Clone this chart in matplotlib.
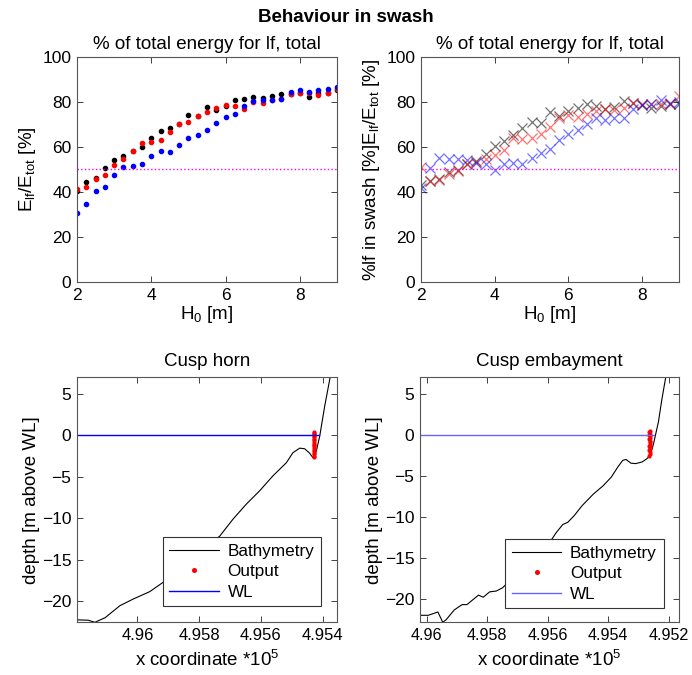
import numpy as np
import matplotlib
matplotlib.use('Agg')
import matplotlib.pyplot as plt

plt.rcParams['font.family'] = ['Liberation Sans', 'DejaVu Sans']
plt.rcParams['mathtext.default'] = 'regular'

#------------------------------------------------------------------------------
# data
H0 = [2.0, 2.25, 2.5, 2.75, 3.0, 3.25, 3.5, 3.75, 4.0, 4.25, 4.5, 4.75, 5.0, 5.25,
      5.5, 5.75, 6.0, 6.25, 6.5, 6.75, 7.0, 7.25, 7.5, 7.75, 8.0, 8.25, 8.5, 8.75, 9.0]

# top left: % of total energy for lf (dots)
e_black = [40.6, 44.6, 46.4, 50.7, 54.1, 55.9, 58.4, 60.2, 64.2, 67.0, 68.5, 70.4, 74.1, 73.8,
           77.6, 76.5, 78.3, 81.1, 81.4, 82.2, 81.7, 82.8, 83.5, 83.5, 84.1, 82.2, 84.2, 84.2, 85.4]
e_red = [41.2, 42.2, 45.6, 47.4, 52.0, 54.5, 58.4, 61.8, 62.3, 63.2, 66.7, 70.0, 70.9, 73.6,
         75.6, 77.3, 78.5, 78.0, 77.0, 80.1, 79.5, 81.0, 81.3, 83.5, 84.1, 84.0, 83.2, 84.1, 85.6]
e_blue = [30.6, 34.5, 40.3, 42.2, 47.4, 51.3, 51.6, 52.6, 55.9, 58.2, 57.7, 60.9, 64.0, 65.2,
          67.6, 70.7, 73.4, 74.6, 78.0, 80.4, 80.7, 81.1, 81.4, 84.5, 85.4, 84.4, 85.4, 85.7, 86.6]

# top right: % lf in swash (crosses)
s_black = [43.3, 44.7, 45.8, 48.7, 49.6, 52.6, 53.6, 57.0, 60.4, 62.7, 65.2, 68.6, 71.3, 70.7,
           75.4, 73.6, 75.9, 77.2, 79.0, 78.4, 77.0, 77.8, 80.3, 79.6, 78.8, 77.3, 78.1, 79.1, 79.0]
s_red = [51.0, 44.7, 45.5, 48.0, 49.3, 52.3, 53.3, 54.8, 56.4, 58.8, 63.9, 63.6, 64.1, 65.9,
         68.9, 72.7, 74.1, 73.3, 74.7, 76.1, 76.7, 76.3, 77.3, 79.6, 79.0, 79.0, 79.3, 79.3, 82.8]
s_blue = [41.9, 50.8, 55.1, 54.8, 54.8, 54.4, 53.0, 52.3, 49.6, 52.3, 53.0, 52.4, 55.1, 57.3,
          59.3, 63.3, 65.6, 67.7, 70.4, 73.0, 72.1, 73.0, 73.0, 77.0, 78.8, 79.3, 80.7, 79.6, 79.9]

# bottom left: cusp horn profile (x in 10^5 m)
horn_x = [4.96200, 4.96160, 4.96138, 4.96105, 4.96057, 4.96014, 4.95960, 4.95906, 4.95879,
          4.95830, 4.95787, 4.95733, 4.95690, 4.95647, 4.95604, 4.95561, 4.95517, 4.95496,
          4.95474, 4.95458, 4.95442, 4.95429, 4.95420, 4.95409, 4.95393, 4.95375, 4.95340]
horn_z = [-22.25, -22.30, -22.55, -22.00, -20.55, -19.75, -18.85, -17.45, -16.75,
          -14.95, -13.75, -12.15, -10.10, -8.30, -6.70, -4.90, -3.30, -2.10,
          -1.55, -1.62, -2.15, -2.80, -1.90, -0.10, 3.50, 7.05, 13.50]
horn_out_x = [4.95427, 4.95428, 4.95426, 4.95428, 4.95427, 4.95426, 4.95428, 4.95427, 4.95426,
              4.95427, 4.95428, 4.95426, 4.95427, 4.95428, 4.95426, 4.95427, 4.95428, 4.95427]
horn_out_z = [0.45, 0.28, 0.12, -0.05, -0.25, -0.42, -0.60, -0.82, -1.00,
              -1.18, -1.35, -1.58, -1.75, -1.92, -2.10, -2.28, -2.45, -2.62]
horn_wl_x = [4.96200, 4.95412]

# bottom right: cusp embayment profile
emb_x = [4.96030, 4.95995, 4.95963, 4.95947, 4.95936, 4.95909, 4.95883, 4.95867, 4.95829,
         4.95813, 4.95792, 4.95770, 4.95749, 4.95733, 4.95719, 4.95708, 4.95697, 4.95660,
         4.95625, 4.95590, 4.95572, 4.95550, 4.95534, 4.95513, 4.95486, 4.95449, 4.95417,
         4.95390, 4.95368, 4.95352, 4.95341, 4.95325, 4.95309, 4.95288, 4.95272, 4.95261,
         4.95250, 4.95234, 4.95223, 4.95210, 4.95190]
emb_z = [-21.95, -21.95, -21.55, -22.80, -22.50, -21.30, -20.65, -20.65, -19.50,
         -19.75, -19.10, -19.00, -18.60, -18.00, -17.80, -16.60, -15.30, -14.60,
         -13.80, -12.90, -11.90, -10.90, -10.65, -9.85, -8.60, -7.20, -6.20,
         -5.15, -3.90, -3.10, -3.00, -3.45, -3.50, -3.30, -2.90, -2.50,
         -1.05, 1.60, 4.25, 7.00, 12.00]
emb_out_x = [4.95263, 4.95264, 4.95262, 4.95264, 4.95263, 4.95262, 4.95264, 4.95263, 4.95262,
             4.95263, 4.95264, 4.95262, 4.95263, 4.95264, 4.95262, 4.95263, 4.95264]
emb_out_z = [0.50, 0.33, 0.15, -0.02, -0.20, -0.38, -0.55, -0.75, -0.92,
             -1.10, -1.30, -1.48, -1.65, -1.85, -2.05, -2.28, -2.52]
emb_wl_x = [4.96030, 4.95248]

#------------------------------------------------------------------------------
def matlab_axes(ax):
    ax.tick_params(direction='in', top=True, right=True, length=4, width=0.6,
                   labelsize=12.5, colors='#222222', labelcolor='black', pad=4)
    for s in ax.spines.values():
        s.set_color('#555555')
        s.set_linewidth(0.8)

def add_legend(ax, y0):
    leg = ax.legend(loc='lower right', bbox_to_anchor=(0.972, y0), fontsize=12.3,
                    handlelength=2.9, handletextpad=0.5, fancybox=False, framealpha=1,
                    edgecolor='#333333', borderpad=0.4, labelspacing=0.3, markerscale=1.3)
    leg.get_frame().set_linewidth(0.8)

fig = plt.figure(figsize=(6.92, 6.75), dpi=100)
fig.suptitle('Behaviour in swash', fontsize=13.5, fontweight='bold', y=0.987)

ax1 = fig.add_axes([0.1113, 0.5822, 0.3757, 0.3334])
ax2 = fig.add_axes([0.6084, 0.5822, 0.3728, 0.3334])
ax3 = fig.add_axes([0.1113, 0.0781, 0.3757, 0.3630])
ax4 = fig.add_axes([0.6070, 0.0781, 0.3747, 0.3630])

# top left
ax1.plot(H0, e_black, '.', color='black', ms=6)
ax1.plot(H0, e_red, '.', color='red', ms=6)
ax1.plot(H0, e_blue, '.', color='blue', ms=6)
ax1.axhline(50, color='magenta', ls=':', lw=1)
ax1.set_xlim(2, 9)
ax1.set_ylim(0, 100)
ax1.set_xticks([2, 4, 6, 8])
ax1.set_title('% of total energy for lf, total', fontsize=13.5, pad=6)
ax1.set_xlabel('H$_0$ [m]', fontsize=13.5, labelpad=1)
ax1.set_ylabel('E$_{lf}$/E$_{tot}$ [%]', fontsize=13.5, labelpad=3)
matlab_axes(ax1)

# top right
ax2.plot(H0, s_black, 'x', color='black', ms=7, mew=0.9, alpha=0.55)
ax2.plot(H0, s_red, 'x', color='red', ms=7, mew=0.9, alpha=0.55)
ax2.plot(H0, s_blue, 'x', color='blue', ms=7, mew=0.9, alpha=0.55)
ax2.axhline(50, color='magenta', ls=':', lw=1)
ax2.set_xlim(2, 9)
ax2.set_ylim(0, 100)
ax2.set_xticks([2, 4, 6, 8])
ax2.set_title('% of total energy for lf, total', fontsize=13.5, pad=6)
ax2.set_xlabel('H$_0$ [m]', fontsize=13.5, labelpad=1)
ax2.set_ylabel('%lf in swash [%]E$_{lf}$/E$_{tot}$ [%]', fontsize=13.5, labelpad=3)
matlab_axes(ax2)

# bottom left
ax3.plot(horn_x, horn_z, color='black', lw=0.8, label='Bathymetry')
ax3.plot(horn_out_x, horn_out_z, '.', color='red', ms=4, label='Output')
ax3.plot(horn_wl_x, [0, 0], color='blue', lw=1.0, label='WL')
ax3.set_xlim(4.96196, 4.95353)
ax3.set_ylim(-22.55, 7)
ax3.set_xticks([4.96, 4.958, 4.956, 4.954])
ax3.set_xticklabels(['4.96', '4.958', '4.956', '4.954'])
ax3.set_yticks([5, 0, -5, -10, -15, -20])
ax3.set_title('Cusp horn', fontsize=13.5, pad=8)
ax3.set_xlabel('x coordinate *10$^5$', fontsize=13.5, labelpad=5)
ax3.set_ylabel('depth [m above WL]', fontsize=13.5, labelpad=1)
matlab_axes(ax3)
ax3.tick_params(axis='x', labelsize=12)
add_legend(ax3, 0.03)

# bottom right
ax4.plot(emb_x, emb_z, color='black', lw=0.8, label='Bathymetry')
ax4.plot(emb_out_x, emb_out_z, '.', color='red', ms=4, label='Output')
ax4.plot(emb_wl_x, [0, 0], color='#6666ff', lw=1.0, label='WL')
ax4.set_xlim(4.96022, 4.95165)
ax4.set_ylim(-22.8, 7)
ax4.set_xticks([4.96, 4.958, 4.956, 4.954, 4.952])
ax4.set_xticklabels(['4.96', '4.958', '4.956', '4.954', '4.952'])
ax4.set_yticks([5, 0, -5, -10, -15, -20])
ax4.set_title('Cusp embayment', fontsize=13.5, pad=8)
ax4.set_xlabel('x coordinate *10$^5$', fontsize=13.5, labelpad=5)
ax4.set_ylabel('depth [m above WL]', fontsize=13.5, labelpad=1)
matlab_axes(ax4)
ax4.tick_params(axis='x', labelsize=11.6)
add_legend(ax4, 0.022)

fig.savefig('out.png', dpi=100)
